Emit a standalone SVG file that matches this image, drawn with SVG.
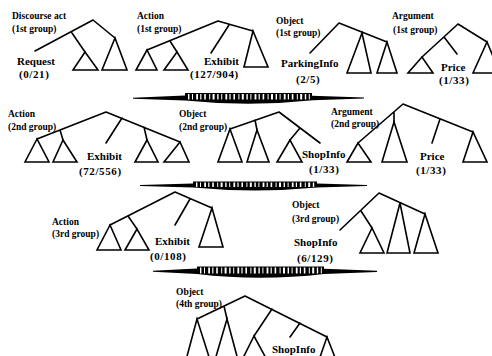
<svg xmlns="http://www.w3.org/2000/svg" width="492" height="356" viewBox="0 0 492 356">
  <style>
    .e{fill:none;stroke:#000;stroke-width:1.6;stroke-linecap:round;stroke-linejoin:miter}
    .t{fill:#fff;stroke:#000;stroke-width:1.6;stroke-linejoin:miter}
    .c{font-family:"Liberation Serif","Times New Roman",serif;font-size:9.5px;font-weight:bold;fill:#000}
    .n{font-family:"Liberation Serif","Times New Roman",serif;font-size:11px;font-weight:bold;fill:#000}
    .v{font-family:"Liberation Serif","Times New Roman",serif;font-size:11px;font-weight:bold;fill:#000;letter-spacing:0.6px}
    .a{fill:#000;stroke:none}
    .st{fill:none;stroke:#fff;stroke-dasharray:1.4 2.6 1 3.2 1.8 2.2 1.2 2.8 1.6 3.4 1 2.4 2 2.6}
  </style>
  <rect width="492" height="356" fill="#fff"/>

  <!-- row 1 -->
  <g id="discourse-act-1">
    <text class="c" x="12" y="19">Discourse act</text>
    <text class="c" x="12" y="32">(1st group)</text>
    <path class="e" d="M93,20 L35,51 M72,33 L85,52 M93,20 L115,38"/>
    <polygon class="t" points="85,52 73,70 98,70"/>
    <polygon class="t" points="115,38 102,70 127,70"/>
    <text class="n" x="17" y="65">Request</text>
    <text class="v" x="19" y="78">(0/21)</text>
  </g>

  <g id="action-1">
    <text class="c" x="137" y="19">Action</text>
    <text class="c" x="137" y="32">(1st group)</text>
    <path class="e" d="M218,21 L147,50 M170,41 L177,52 M218,21 L253,31 M229,25 L211,53"/>
    <polygon class="t" points="147,50 136,70 157,70"/>
    <polygon class="t" points="177,52 164,70 188,70"/>
    <polygon class="t" points="253,31 244,67 268,67"/>
    <text class="n" x="204" y="65">Exhibit</text>
    <text class="v" x="190" y="78">(127/904)</text>
  </g>

  <g id="object-1">
    <text class="c" x="276" y="24">Object</text>
    <text class="c" x="276" y="36">(1st group)</text>
    <path class="e" d="M339,23 L310,53 M339,23 L387,42"/>
    <polygon class="t" points="362,33 347,73 371,73"/>
    <polygon class="t" points="387,42 377,73 397,73"/>
    <text class="n" x="281" y="67">ParkingInfo</text>
    <text class="v" x="296" y="83">(2/5)</text>
  </g>

  <g id="argument-1">
    <text class="c" x="392" y="19">Argument</text>
    <text class="c" x="393" y="33">(1st group)</text>
    <path class="e" d="M458,24 L422,57 M444,37 L457,54 M458,24 L487,42"/>
    <polygon class="t" points="422,57 408,73 433,73"/>
    <polygon class="t" points="487,42 473,73 500,73"/>
    <text class="n" x="441" y="71">Price</text>
    <text class="v" x="439" y="84">(1/33)</text>
  </g>

  <!-- row 2 -->
  <g id="action-2">
    <text class="c" x="8" y="117">Action</text>
    <text class="c" x="8" y="130">(2nd group)</text>
    <path class="e" d="M106,112 L37,139 M60,130 L63,140 M106,112 L180,142 M144,127 L147,140 M122,118 L106,143"/>
    <polygon class="t" points="37,139 25,162 49,162"/>
    <polygon class="t" points="63,140 53,162 77,162"/>
    <polygon class="t" points="147,140 135,162 158,162"/>
    <polygon class="t" points="180,142 164,162 189,162"/>
    <text class="n" x="87" y="160">Exhibit</text>
    <text class="v" x="79" y="175">(72/556)</text>
  </g>

  <g id="object-2">
    <text class="c" x="179" y="117">Object</text>
    <text class="c" x="179" y="130">(2nd group)</text>
    <path class="e" d="M279,112 L230,129 M255,120 L257,130 M279,112 L320,143 M300,128 L290,140"/>
    <polygon class="t" points="230,129 218,162 242,162"/>
    <polygon class="t" points="257,130 247,162 269,162"/>
    <polygon class="t" points="290,140 277,162 302,162"/>
    <text class="n" x="302" y="158">ShopInfo</text>
    <text class="v" x="309" y="173">(1/33)</text>
  </g>

  <g id="argument-2">
    <text class="c" x="331" y="115">Argument</text>
    <text class="c" x="331" y="127">(2nd group)</text>
    <path class="e" d="M403,104 L358,143 M394,112 L394,122 M403,104 L473,132 M440,119 L432,143"/>
    <polygon class="t" points="358,143 347,162 371,162"/>
    <polygon class="t" points="394,122 382,162 407,162"/>
    <polygon class="t" points="473,132 463,162 487,162"/>
    <text class="n" x="420" y="160">Price</text>
    <text class="v" x="416" y="174">(1/33)</text>
  </g>

  <!-- row 3 -->
  <g id="action-3">
    <text class="c" x="52" y="225">Action</text>
    <text class="c" x="52" y="237">(3rd group)</text>
    <path class="e" d="M175,192 L110,225 M128,216 L137,229 M175,192 L212,208 M190,199 L175,225"/>
    <polygon class="t" points="110,225 97,250 121,250"/>
    <polygon class="t" points="137,229 125,250 149,250"/>
    <polygon class="t" points="212,208 199,247 223,247"/>
    <text class="n" x="155" y="245">Exhibit</text>
    <text class="v" x="150" y="260">(0/108)</text>
  </g>

  <g id="object-3">
    <text class="c" x="292" y="208">Object</text>
    <text class="c" x="292" y="222">(3rd group)</text>
    <path class="e" d="M379,193 L340,230 M361,211 L372,228 M379,193 L425,214"/>
    <polygon class="t" points="372,228 360,253 384,253"/>
    <polygon class="t" points="400,203 387,253 410,253"/>
    <polygon class="t" points="425,214 414,253 438,253"/>
    <text class="n" x="294" y="246">ShopInfo</text>
    <text class="v" x="297" y="262">(6/129)</text>
  </g>

  <!-- row 4 -->
  <g id="object-4">
    <text class="c" x="176" y="295">Object</text>
    <text class="c" x="176" y="307">(4th group)</text>
    <path class="e" d="M245,296 L197,319 M224,306 L227,319 M245,296 L327,337 M272,309 L254,336 M300,323 L290,337"/>
    <polygon class="t" points="197,319 186,360 210,360"/>
    <polygon class="t" points="227,319 215,360 238,360"/>
    <polygon class="t" points="254,336 242,360 267,360"/>
    <polygon class="t" points="327,337 319,360 336,360"/>
    <text class="n" x="272" y="353">ShopInfo</text>
  </g>

  <!-- transfer arrows between the groups -->
  <g id="connectors">
    <path class="a" d="M133,97.8 L185,95.6 L185,93 L312,93 L312,95.8 L364,97.4 L364,98.6 L313,100.2 Q250,107 185,100.4 L133,98.8 Z"/>
    <line class="st" x1="188" y1="96.8" x2="310" y2="96.8" stroke-width="5.4"/>

    <path class="a" d="M140,185 L193,183.4 L193,181.5 L317,181.5 L317,183.6 L367,185 L367,186.1 L317,187.6 Q255,193.5 193,187.6 L140,185.9 Z"/>
    <line class="st" x1="196" y1="184.8" x2="315" y2="184.8" stroke-width="4.4"/>

    <path class="a" d="M153,270.8 L197,268.6 L197,266.5 L324,266.5 L324,268.8 L377,270.8 L377,272 L324,274 Q260,281.5 197,274 L153,271.8 Z"/>
    <line class="st" x1="200" y1="270.6" x2="322" y2="270.6" stroke-width="6"/>
  </g>
</svg>
